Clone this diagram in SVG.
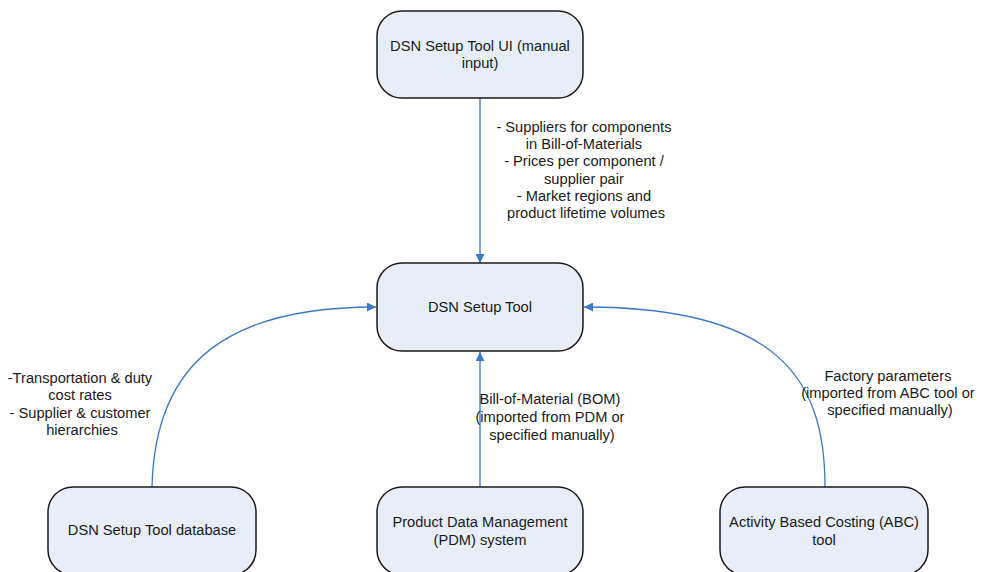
<svg xmlns="http://www.w3.org/2000/svg" width="984" height="572" viewBox="0 0 984 572">
  <style>
    .box { fill: #e8eef7; stroke: #1a1a1a; stroke-width: 1.5; }
    .lbl { font-family: "Liberation Sans", Arial, sans-serif; font-size: 14.67px; fill: #1a1a1a; text-anchor: middle; }
    .conn { fill: none; stroke: #3b78c3; stroke-width: 1.3; }
  </style>
  <defs>
    <marker id="arrow" viewBox="0 0 10 10" refX="10" refY="5" markerWidth="9" markerHeight="9" markerUnits="userSpaceOnUse" orient="auto">
      <path d="M0,0 L10,5 L0,10 z" fill="#3b78c3"/>
    </marker>
  </defs>
  <rect width="984" height="572" fill="#ffffff"/>

  <!-- connectors -->
  <g id="connectors">
    <path class="conn" d="M480,98 L480,263" marker-end="url(#arrow)"/>
    <path class="conn" d="M480,487 L480,352" marker-end="url(#arrow)"/>
    <path class="conn" d="M152,487 C155,360 230,307 376,307" marker-end="url(#arrow)"/>
    <path class="conn" d="M825,487 C825,380 780,307 584,307" marker-end="url(#arrow)"/>
    <text class="lbl">
      <tspan x="586" y="132">- Suppliers for components</tspan>
      <tspan x="586" y="149">in Bill-of-Materials</tspan>
      <tspan x="586" y="166">- Prices per component /</tspan>
      <tspan x="586" y="184">supplier pair</tspan>
      <tspan x="586" y="201">- Market regions and</tspan>
      <tspan x="586" y="218">product lifetime volumes</tspan>
    </text>
    <text class="lbl">
      <tspan x="82" y="383">-Transportation &amp; duty</tspan>
      <tspan x="82" y="400">cost rates</tspan>
      <tspan x="82" y="418">- Supplier &amp; customer</tspan>
      <tspan x="82" y="435">hierarchies</tspan>
    </text>
    <text class="lbl">
      <tspan x="552" y="404">Bill-of-Material (BOM)</tspan>
      <tspan x="552" y="422">(imported from PDM or</tspan>
      <tspan x="552" y="440">specified manually)</tspan>
    </text>
    <text class="lbl">
      <tspan x="890" y="381">Factory parameters</tspan>
      <tspan x="890" y="398">(imported from ABC tool or</tspan>
      <tspan x="890" y="415">specified manually)</tspan>
    </text>
  </g>

  <!-- nodes -->
  <g id="ui">
    <rect class="box" x="377" y="11" width="206" height="87" rx="25" ry="25"/>
    <text class="lbl"><tspan x="480" y="51">DSN Setup Tool UI (manual</tspan><tspan x="480" y="68">input)</tspan></text>
  </g>
  <g id="setup-tool">
    <rect class="box" x="377" y="263" width="206" height="88" rx="25" ry="25"/>
    <text class="lbl" x="480" y="312">DSN Setup Tool</text>
  </g>
  <g id="database">
    <rect class="box" x="48" y="487" width="208" height="88" rx="25" ry="25"/>
    <text class="lbl" x="152" y="535">DSN Setup Tool database</text>
  </g>
  <g id="pdm">
    <rect class="box" x="377" y="487" width="206" height="88" rx="25" ry="25"/>
    <text class="lbl"><tspan x="480" y="527">Product Data Management</tspan><tspan x="480" y="545">(PDM) system</tspan></text>
  </g>
  <g id="abc">
    <rect class="box" x="720" y="487" width="208" height="88" rx="25" ry="25"/>
    <text class="lbl"><tspan x="824" y="527">Activity Based Costing (ABC)</tspan><tspan x="824" y="545">tool</tspan></text>
  </g>
</svg>
